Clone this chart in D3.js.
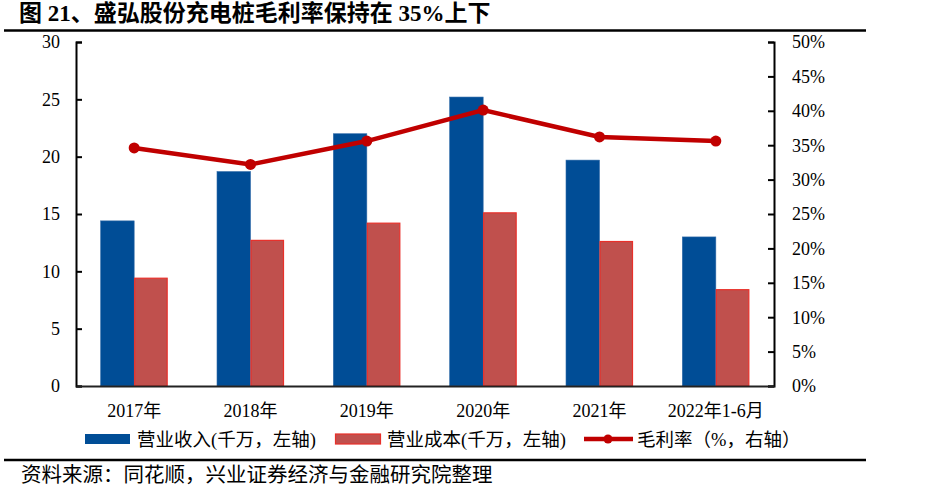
<!DOCTYPE html>
<html>
<head>
<meta charset="utf-8">
<script src="https://cdn.jsdelivr.net/npm/d3@7"></script>
<style>
  body { margin: 0; background: #fff; }
  text { font-family: "Liberation Serif", "Noto Sans CJK SC", serif; }
</style>
</head>
<body>
<svg id="chart" width="925" height="490"></svg>
<script>
// data
const categories = ["2017年", "2018年", "2019年", "2020年", "2021年", "2022年1-6月"];
const revenue = [14.4, 18.7, 22.0, 25.2, 19.7, 13.0];   // 营业收入 (千万)
const cost = [9.4, 12.7, 14.2, 15.1, 12.6, 8.4];        // 营业成本 (千万)
const margin = [0.346, 0.322, 0.356, 0.401, 0.362, 0.356]; // 毛利率
const leftTicks = [0, 5, 10, 15, 20, 25, 30];
const rightTicks = [0, 0.05, 0.1, 0.15, 0.2, 0.25, 0.3, 0.35, 0.4, 0.45, 0.5];

const svg = d3.select("#chart");

const plotLeft = 76, plotRight = 774, plotTop = 42, plotBottom = 386;

const x = d3.scaleBand().domain(categories).range([plotLeft, plotRight]);
const inner = d3.scaleBand().domain(["rev", "cost"]).range([0, 67]);
const yL = d3.scaleLinear().domain([0, 30]).range([plotBottom, plotTop]);
const yR = d3.scaleLinear().domain([0, 0.5]).range([plotBottom, plotTop]);

const blue = "#004D96";
const redFill = "#C0504D";
const redStroke = "#E8302A";
const lineRed = "#C00000";

// title
svg.append("text")
  .attr("x", 19).attr("y", 21)
  .attr("font-size", 23).attr("font-weight", "bold")
  .text("图 21、盛弘股份充电桩毛利率保持在 35%上下");

svg.append("line")
  .attr("x1", 4).attr("x2", 866).attr("y1", 30.5).attr("y2", 30.5)
  .attr("stroke", "#000").attr("stroke-width", 2.5);

// bars
const groups = svg.append("g").selectAll("g")
  .data(categories)
  .join("g")
  .attr("transform", d => `translate(${x(d) + x.bandwidth() / 2 - 33.5},0)`);

groups.append("rect")
  .attr("x", inner("rev"))
  .attr("width", inner.bandwidth())
  .attr("y", (d, i) => yL(revenue[i]))
  .attr("height", (d, i) => plotBottom - yL(revenue[i]))
  .attr("fill", blue)
  .attr("stroke", "#2f6aa8").attr("stroke-width", 0.6);

groups.append("rect")
  .attr("x", inner("cost") + 0.5)
  .attr("width", inner.bandwidth() - 1)
  .attr("y", (d, i) => yL(cost[i]))
  .attr("height", (d, i) => plotBottom - yL(cost[i]))
  .attr("fill", redFill)
  .attr("stroke", redStroke).attr("stroke-width", 1.2);

// axes
const axL = svg.append("g")
  .attr("transform", `translate(${plotLeft},0)`)
  .call(d3.axisRight(yL).tickValues(leftTicks).tickSize(6).tickFormat(d3.format("d")));
axL.selectAll("text").remove();
axL.selectAll("text.lbl")
  .data(leftTicks).join("text")
  .attr("x", -16).attr("y", d => yL(d)).attr("dy", "0.35em")
  .attr("text-anchor", "end").attr("font-size", 18).attr("fill", "#000")
  .text(d => d);

const axR = svg.append("g")
  .attr("transform", `translate(${plotRight},0)`)
  .call(d3.axisLeft(yR).tickValues(rightTicks).tickSize(6));
axR.selectAll("text").remove();
axR.selectAll("text.lbl")
  .data(rightTicks).join("text")
  .attr("x", 18).attr("y", d => yR(d)).attr("dy", "0.35em")
  .attr("text-anchor", "start").attr("font-size", 18).attr("fill", "#000")
  .text(d => d3.format(".0%")(d));

[axL, axR].forEach(a => {
  a.select(".domain").attr("stroke", "#000").attr("stroke-width", 2);
  a.selectAll(".tick line").attr("stroke", "#000").attr("stroke-width", 2);
});

const axB = svg.append("g")
  .attr("transform", `translate(0,${plotBottom})`)
  .call(d3.axisBottom(x).tickSize(0).tickPadding(18));
axB.select(".domain").attr("stroke", "#222").attr("stroke-width", 2);
axB.selectAll("text").attr("font-size", 18).attr("fill", "#000")
  .style("font-family", "'Liberation Serif', 'Noto Sans CJK SC', serif");

// margin line
const line = d3.line()
  .x((d, i) => x(categories[i]) + x.bandwidth() / 2)
  .y(d => yR(d));

svg.append("path")
  .datum(margin)
  .attr("d", line)
  .attr("fill", "none")
  .attr("stroke", lineRed)
  .attr("stroke-width", 4.5);

svg.append("g").selectAll("circle")
  .data(margin).join("circle")
  .attr("cx", (d, i) => x(categories[i]) + x.bandwidth() / 2)
  .attr("cy", d => yR(d))
  .attr("r", 5.5)
  .attr("fill", lineRed);

// legend
const leg = svg.append("g").attr("transform", "translate(0,439)");
leg.append("rect").attr("x", 85).attr("y", -5).attr("width", 45).attr("height", 10).attr("fill", blue);
leg.append("text").attr("x", 137).attr("y", 0).attr("dy", "0.36em").attr("font-size", 18.5)
  .text("营业收入(千万，左轴)");
leg.append("rect").attr("x", 335.5).attr("y", -5).attr("width", 45).attr("height", 10)
  .attr("fill", redFill).attr("stroke", redStroke).attr("stroke-width", 1.2);
leg.append("text").attr("x", 387).attr("y", 0).attr("dy", "0.36em").attr("font-size", 18.5)
  .text("营业成本(千万，左轴)");
leg.append("line").attr("x1", 584).attr("x2", 633).attr("y1", 0).attr("y2", 0)
  .attr("stroke", lineRed).attr("stroke-width", 4.5);
leg.append("circle").attr("cx", 608).attr("cy", 0).attr("r", 4.5).attr("fill", lineRed);
leg.append("text").attr("x", 637).attr("y", 0).attr("dy", "0.36em").attr("font-size", 18.5)
  .text("毛利率（%，右轴）");

// footer
svg.append("line")
  .attr("x1", 4).attr("x2", 866).attr("y1", 460).attr("y2", 460)
  .attr("stroke", "#000").attr("stroke-width", 2.5);
svg.append("text")
  .attr("x", 21).attr("y", 475).attr("dy", "0.36em").attr("font-size", 20.5)
  .text("资料来源：同花顺，兴业证券经济与金融研究院整理");
</script>
</body>
</html>
